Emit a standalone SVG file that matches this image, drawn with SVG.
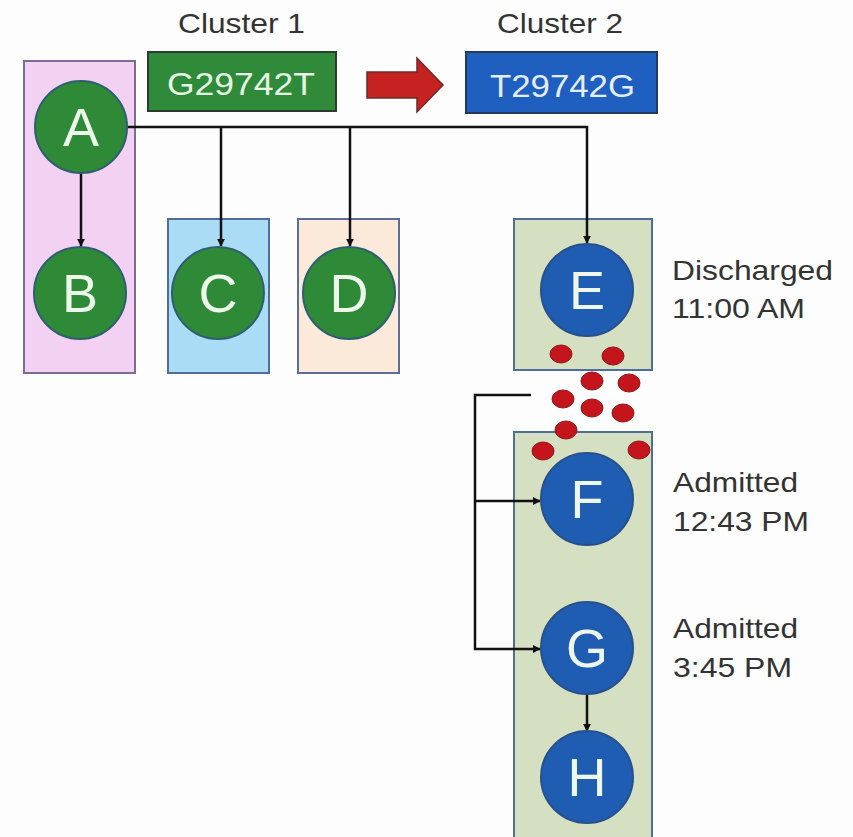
<svg xmlns="http://www.w3.org/2000/svg" width="853" height="837" viewBox="0 0 853 837">
<defs>
<marker id="ah" viewBox="0 0 10 10" refX="9" refY="5" markerWidth="8" markerHeight="8" markerUnits="userSpaceOnUse" orient="auto">
<path d="M0,0 L10,5 L0,10 z" fill="#111"/>
</marker>
</defs>
<style>
text{font-family:"Liberation Sans",Arial,sans-serif}
.lbl{font-size:28px;fill:#333}
.nt{font-size:54px;fill:#eef8ea;text-anchor:middle}
.gn{fill:#2f8a38;stroke:#2e5e72;stroke-width:2}
.bn{fill:#1f5db3;stroke:#28508a;stroke-width:2}
.dot{fill:#c3151b;stroke:#8a1a1a;stroke-width:1}
.con{fill:none;stroke:#111;stroke-width:2.5}
.bg{stroke-width:2}
</style>
<rect width="853" height="837" fill="#fdfdfd"/>
<g id="cluster-boxes">
<rect id="boxAB" class="bg" x="24" y="61" width="111" height="312" fill="#f3d1f2" stroke="#7a6d96"/>
<rect id="boxC" class="bg" x="168" y="219" width="101" height="154" fill="#aadcf6" stroke="#4e6d98"/>
<rect id="boxD" class="bg" x="298" y="219" width="101" height="154" fill="#fbe9d9" stroke="#5d6c98"/>
<rect id="boxE" class="bg" x="514" y="219" width="138" height="151" fill="#d5dfc1" stroke="#4e6d98"/>
<rect id="boxFGH" class="bg" x="514" y="432" width="138" height="410" fill="#d5dfc1" stroke="#4e6d98"/>
</g>
<g id="header">
<text class="lbl" x="178" y="33" textLength="127" lengthAdjust="spacingAndGlyphs">Cluster 1</text>
<text class="lbl" x="497" y="33" textLength="126" lengthAdjust="spacingAndGlyphs">Cluster 2</text>
<g id="mut1">
<rect x="148" y="52" width="188" height="59" fill="#2f8a3a" stroke="#2b3b2e" stroke-width="2"/>
<text x="167" y="95" font-size="32" fill="#e6f6e4" textLength="148" lengthAdjust="spacingAndGlyphs">G29742T</text>
</g>
<polygon id="mutArrow" points="367,72 417,72 417,58 443,85 417,112 417,98 367,98" fill="#c62222" stroke="#6a2a2a" stroke-width="1.5"/>
<g id="mut2">
<rect x="466" y="52" width="191" height="61" fill="#1f5fbf" stroke="#243a5a" stroke-width="2"/>
<text x="490" y="97" font-size="32" fill="#e4eefa" textLength="145" lengthAdjust="spacingAndGlyphs">T29742G</text>
</g>
</g>
<g id="connectors">
<path class="con" d="M81,173 V246" marker-end="url(#ah)"/>
<path class="con" d="M127,127 H587 V243" marker-end="url(#ah)"/>
<path class="con" d="M221,127 V246" marker-end="url(#ah)"/>
<path class="con" d="M350,127 V246" marker-end="url(#ah)"/>
<path class="con" d="M531,395 H475 V649 H540" marker-end="url(#ah)"/>
<path class="con" d="M475,501 H540" marker-end="url(#ah)"/>
<path class="con" d="M587,694 V731" marker-end="url(#ah)"/>
</g>
<g id="dots">
<ellipse class="dot" cx="561" cy="354" rx="11" ry="9"/>
<ellipse class="dot" cx="613" cy="356" rx="11" ry="9"/>
<ellipse class="dot" cx="592" cy="381" rx="11" ry="9"/>
<ellipse class="dot" cx="629" cy="383" rx="11" ry="9"/>
<ellipse class="dot" cx="563" cy="399" rx="11" ry="9"/>
<ellipse class="dot" cx="592" cy="408" rx="11" ry="9"/>
<ellipse class="dot" cx="623" cy="413" rx="11" ry="9"/>
<ellipse class="dot" cx="566" cy="430" rx="11" ry="9"/>
<ellipse class="dot" cx="543" cy="451" rx="11" ry="9"/>
<ellipse class="dot" cx="639" cy="450" rx="11" ry="9"/>
</g>
<g id="A"><circle class="gn" cx="81" cy="127" r="46"/><text class="nt" x="81" y="146">A</text></g>
<g id="B"><circle class="gn" cx="80" cy="293" r="46"/><text class="nt" x="80" y="312">B</text></g>
<g id="C"><circle class="gn" cx="218" cy="293" r="46"/><text class="nt" x="218" y="312">C</text></g>
<g id="D"><circle class="gn" cx="349" cy="293" r="46"/><text class="nt" x="349" y="312">D</text></g>
<g id="E"><circle class="bn" cx="587" cy="290" r="46"/><text class="nt" x="587" y="309">E</text></g>
<g id="F"><circle class="bn" cx="587" cy="499" r="46"/><text class="nt" x="587" y="518">F</text></g>
<g id="G"><circle class="bn" cx="587" cy="648" r="46"/><text class="nt" x="587" y="667">G</text></g>
<g id="H"><circle class="bn" cx="587" cy="777" r="46"/><text class="nt" x="587" y="796">H</text></g>
<g id="annotations">
<text class="lbl" x="672" y="280" textLength="161" lengthAdjust="spacingAndGlyphs">Discharged</text>
<text class="lbl" x="672" y="318" textLength="133" lengthAdjust="spacingAndGlyphs">11:00 AM</text>
<text class="lbl" x="673" y="492" textLength="125" lengthAdjust="spacingAndGlyphs">Admitted</text>
<text class="lbl" x="673" y="531" textLength="136" lengthAdjust="spacingAndGlyphs">12:43 PM</text>
<text class="lbl" x="673" y="638" textLength="125" lengthAdjust="spacingAndGlyphs">Admitted</text>
<text class="lbl" x="673" y="677" textLength="119" lengthAdjust="spacingAndGlyphs">3:45 PM</text>
</g>
</svg>
